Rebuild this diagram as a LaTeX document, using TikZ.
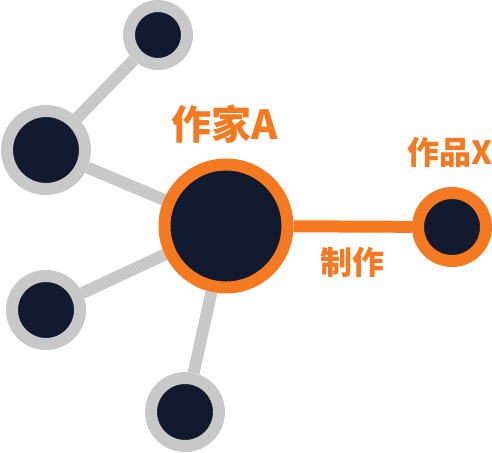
\documentclass[tikz,border=0pt]{standalone}
\usepackage{fontspec}
\newfontfamily\cjk{Noto Sans CJK SC}
\usetikzlibrary{backgrounds}
\definecolor{navy}{HTML}{111A2E}
\definecolor{accent}{HTML}{F47920}
\definecolor{pale}{HTML}{C8C8C8}
\tikzset{
  dot/.style={circle, inner sep=0pt, fill=navy, line width=12pt},
  leaf/.style={dot, draw=pale},
  hit/.style={dot, draw=accent},
  link/.style={draw=pale, line width=12pt},
  rel/.style={draw=accent, line width=12pt},
  tag/.style={text=accent, inner sep=0pt, font=\cjk\bfseries}
}
\begin{document}
\begin{tikzpicture}[x=1pt, y=-1pt]
  \useasboundingbox (0,0) rectangle (492,452);
  % nodes
  \node[hit, minimum size=123pt] (writer) at (226,226) {};
  \node[hit, minimum size=68pt] (work) at (452,227) {};
  \node[leaf, minimum size=58pt] (top) at (158,35) {};
  \node[leaf, minimum size=78pt] (upper) at (46,150) {};
  \node[leaf, minimum size=68pt] (lower) at (46,310) {};
  \node[leaf, minimum size=68pt] (bottom) at (185,412) {};
  % labels
  \node[tag, font=\cjk\bfseries\fontsize{40}{40}\selectfont] (writerlabel) at (225,124) {作家A};
  \node[tag, font=\cjk\bfseries\fontsize{32}{32}\selectfont] (worklabel) at (450,152) {作品X};
  % edges
  \begin{scope}[on background layer]
    \draw[link] (top) -- (upper);
    \draw[link] (upper) -- (writer);
    \draw[link] (lower) -- (writer);
    \draw[link] (bottom) -- (writer);
    \draw[rel] (writer) -- (work)
      node[midway, tag, font=\cjk\bfseries\fontsize{32}{32}\selectfont, below=15pt] (rellabel) {制作};
  \end{scope}
\end{tikzpicture}
\end{document}
